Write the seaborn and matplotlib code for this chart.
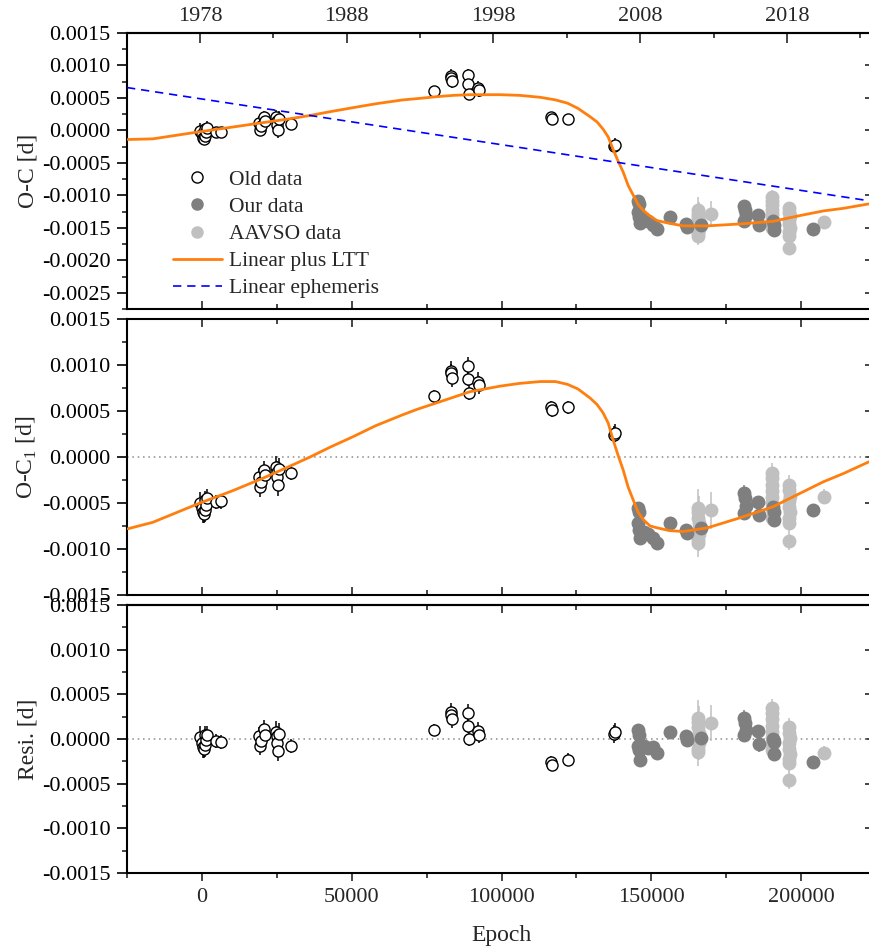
import numpy as np
import matplotlib
matplotlib.use("Agg")
import matplotlib.pyplot as plt
from matplotlib.lines import Line2D
from matplotlib.ticker import MultipleLocator, FixedLocator, FormatStrFormatter, NullLocator
import seaborn as sns

# --- data ----------------------------------------------------------------
old_epoch = [-500, 0, 300, 600, 900, 1200, 1500, 1800, 4800, 6500,
             19200, 19400, 19800, 20800, 21100,
             24600, 24900, 25100, 25300, 25600,
             29700,
             77500, 83000, 83300, 83600, 88700, 88900, 89200, 92000, 92400,
             116500, 116700, 122200,
             137500, 137800]
old_oc = [-0.00001, -0.00006, -0.00011, -0.00013, 0.00002, -0.00009, -0.00003, 0.00004, -0.00003, -0.00003,
          0.00012, 0.00001, 0.00007, 0.00020, 0.00014,
          0.00020, 0.00015, 0.00009, 0.00001, 0.00018,
          0.00010,
          0.00060, 0.00084, 0.00081, 0.00076, 0.00085, 0.00071, 0.00056, 0.00066, 0.00062,
          0.00021, 0.00018, 0.00017,
          -0.00024, -0.00022]
old_oc1 = [-0.00050, -0.00055, -0.00060, -0.00062, -0.00047, -0.00058, -0.00052, -0.00045, -0.00049, -0.00048,
           -0.00022, -0.00033, -0.00027, -0.00014, -0.00020,
           -0.00011, -0.00016, -0.00022, -0.00030, -0.00013,
           -0.00017,
           0.00066, 0.00094, 0.00091, 0.00086, 0.00099, 0.00085, 0.00070, 0.00082, 0.00078,
           0.00054, 0.00051, 0.00054,
           0.00024, 0.00026]
old_res = [0.00002, -0.00004, -0.00009, -0.00011, 0.00004, -0.00007, -0.00001, 0.00005, -0.00002, -0.00003,
           0.00003, -0.00008, -0.00002, 0.00011, 0.00005,
           0.00008, 0.00003, -0.00004, -0.00013, 0.00006,
           -0.00008,
           0.00010, 0.00030, 0.00027, 0.00022, 0.00029, 0.00015, 0.00000, 0.00009, 0.00005,
           -0.00026, -0.00029, -0.00023,
           0.00006, 0.00008]
old_err = [0.00012, 0.00010, 0.00012, 0.00010, 0.00010, 0.00013, 0.00010, 0.00010, 0.00008, 0.00008,
           0.00010, 0.00010, 0.00010, 0.00010, 0.00010,
           0.00012, 0.00012, 0.00012, 0.00012, 0.00012,
           0.00008,
           0.00007, 0.00010, 0.00010, 0.00010, 0.00010, 0.00008, 0.00008, 0.00010, 0.00010,
           0.00007, 0.00007, 0.00007,
           0.00010, 0.00010]

our_epoch = [145600, 146000, 145400, 146200, 145800, 147600, 148900, 150700, 151900, 156300,
             161500, 161900, 166700, 180800, 181200, 181600, 181000, 185700, 186000,
             190700, 190900, 191000, 204000]
our_oc = [-0.00109, -0.00114, -0.00126, -0.00142, -0.00133, -0.00137, -0.00140, -0.00145, -0.00152, -0.00133,
          -0.00144, -0.00148, -0.00145, -0.00117, -0.00123, -0.00131, -0.00139, -0.00131, -0.00145,
          -0.00139, -0.00145, -0.00153, -0.00152]
our_oc1 = [-0.00055, -0.00060, -0.00072, -0.00088, -0.00079, -0.00082, -0.00084, -0.00088, -0.00094, -0.00072,
           -0.00079, -0.00083, -0.00077, -0.00039, -0.00045, -0.00053, -0.00061, -0.00049, -0.00063,
           -0.00054, -0.00060, -0.00068, -0.00058]
our_res = [0.00010, 0.00004, -0.00008, -0.00024, -0.00012, -0.00008, -0.00010, -0.00009, -0.00016, 0.00008,
           0.00003, -0.00001, 0.00001, 0.00024, 0.00018, 0.00010, 0.00004, 0.00009, -0.00006,
           0.00000, -0.00003, -0.00017, -0.00026]
our_err = [0.00004, 0.00004, 0.00004, 0.00005, 0.00004, 0.00004, 0.00004, 0.00004, 0.00004, 0.00003,
           0.00004, 0.00004, 0.00008, 0.00009, 0.00005, 0.00005, 0.00006, 0.00004, 0.00008,
           0.00004, 0.00004, 0.00004, 0.00007]

aavso_epoch = [165500, 165600, 165700, 165800, 165900, 166000, 165700, 165600,
               170000,
               190200, 190300, 190400, 190300, 190200, 190400, 190300, 190300,
               196000, 196100, 196200, 196100, 196000, 196200, 196100, 196100, 196100,
               207700]
aavso_oc = [-0.00123, -0.00128, -0.00134, -0.00140, -0.00146, -0.00152, -0.00158, -0.00162,
            -0.00129,
            -0.00102, -0.00108, -0.00115, -0.00122, -0.00129, -0.00135, -0.00141, -0.00151,
            -0.00120, -0.00126, -0.00132, -0.00138, -0.00144, -0.00150, -0.00156, -0.00162, -0.00181,
            -0.00141]
aavso_oc1 = [-0.00055, -0.00060, -0.00066, -0.00072, -0.00078, -0.00084, -0.00090, -0.00094,
             -0.00058,
             -0.00017, -0.00023, -0.00030, -0.00037, -0.00044, -0.00050, -0.00056, -0.00066,
             -0.00030, -0.00036, -0.00042, -0.00048, -0.00054, -0.00060, -0.00066, -0.00072, -0.00091,
             -0.00043]
aavso_res = [0.00024, 0.00019, 0.00013, 0.00007, 0.00001, -0.00005, -0.00011, -0.00015,
             0.00018,
             0.00035, 0.00029, 0.00022, 0.00015, 0.00008, 0.00002, -0.00004, -0.00012,
             0.00013, 0.00007, 0.00001, -0.00005, -0.00011, -0.00017, -0.00022, -0.00027, -0.00046,
             -0.00016]
aavso_err = [0.00020, 0.00010, 0.00008, 0.00030, 0.00008, 0.00010, 0.00008, 0.00015,
             0.00020,
             0.00010, 0.00008, 0.00008, 0.00008, 0.00008, 0.00008, 0.00010, 0.00010,
             0.00010, 0.00008, 0.00008, 0.00008, 0.00008, 0.00008, 0.00008, 0.00010, 0.00010,
             0.00008]

# LTT model curve (O-C and O-C1 panels)
ltt_epoch = [-24700, -16400, -670, 10000, 20400, 28000, 36100, 43000, 50400, 58000,
             67100, 72000, 78500, 84000, 89500, 94500, 99500, 106000, 112900, 118000,
             122000, 125500, 129600, 131900, 133900, 135600, 137300, 138900, 140600, 142300,
             144000, 145600, 147300, 149600, 152000, 156000, 160700, 168700, 179700, 190700,
             198700, 207400, 214100, 222800]
ltt_oc = [-0.00014, -0.00013, -0.00002, 0.00005, 0.00012, 0.00017, 0.00023, 0.00029, 0.00035, 0.00041,
          0.00047, 0.00049, 0.00052, 0.00054, 0.00055, 0.00055, 0.00055, 0.00054, 0.00051, 0.00047,
          0.00042, 0.00034, 0.00021, 0.00013, 0.00002, -0.00010, -0.00030, -0.00047, -0.00064, -0.00085,
          -0.00100, -0.00114, -0.00123, -0.00132, -0.00139, -0.00143, -0.00147, -0.00147, -0.00144, -0.00140,
          -0.00132, -0.00124, -0.00120, -0.00113]
ltt_oc1 = [-0.00078, -0.00071, -0.00050, -0.00037, -0.00023, -0.00012, 0.00000, 0.00011, 0.00022, 0.00034,
           0.00046, 0.00052, 0.00059, 0.00065, 0.00071, 0.00074, 0.00077, 0.00080, 0.00082, 0.00082,
           0.00079, 0.00074, 0.00064, 0.00057, 0.00048, 0.00037, 0.00018, 0.00002, -0.00014, -0.00033,
           -0.00047, -0.00060, -0.00068, -0.00075, -0.00077, -0.00080, -0.00081, -0.00077, -0.00066, -0.00054,
           -0.00041, -0.00027, -0.00018, -0.00005]

# linear ephemeris (end points)
lin_epoch = [-25000, 225000]
lin_oc = [0.00066, -0.00110]

year_major = [1978, 1988, 1998, 2008, 2018]
year_minor = [1973, 1983, 1993, 2003, 2013, 2023]

# --- style ---------------------------------------------------------------
sns.set_theme(style="ticks")
plt.rcParams["font.family"] = ["Liberation Serif", "DejaVu Serif"]
plt.rcParams["mathtext.fontset"] = "custom"
plt.rcParams["mathtext.rm"] = "Liberation Serif"
plt.rcParams["axes.unicode_minus"] = False

OLD_EDGE = "black"
OUR_C = "#7f7f7f"
AAVSO_C = "#c0c0c0"
LTT_C = "#ff7f0e"
LIN_C = "#0000ff"
MS = 8
MS_FILLED = 9

fig = plt.figure(figsize=(8.69, 9.5), dpi=100)
L, W = 127 / 869, 749 / 869
ax1 = fig.add_axes([L, 1 - 309 / 950, W, 276 / 950])
ax2 = fig.add_axes([L, 1 - 595 / 950, W, 276 / 950])
ax3 = fig.add_axes([L, 1 - 873 / 950, W, 268 / 950])


def draw_set(ax, ep, val, err, face, edge, ms):
    ax.errorbar(ep, val, yerr=err, fmt="none", ecolor=edge, elinewidth=1.1, capsize=0, zorder=2)
    sns.scatterplot(x=ep, y=val, ax=ax, marker="o", s=ms ** 2, color=face, edgecolor=edge,
                    linewidth=1.0, zorder=3, legend=False)


for ax, o, u, a in [(ax1, old_oc, our_oc, aavso_oc),
                    (ax2, old_oc1, our_oc1, aavso_oc1),
                    (ax3, old_res, our_res, aavso_res)]:
    draw_set(ax, aavso_epoch, a, aavso_err, AAVSO_C, AAVSO_C, MS_FILLED)
    draw_set(ax, our_epoch, u, our_err, OUR_C, OUR_C, MS_FILLED)
    draw_set(ax, old_epoch, o, old_err, "white", OLD_EDGE, MS)

sns.lineplot(x=ltt_epoch, y=ltt_oc, ax=ax1, color=LTT_C, lw=2, sort=False, estimator=None, zorder=5)
sns.lineplot(x=lin_epoch, y=lin_oc, ax=ax1, color=LIN_C, lw=1.2, sort=False, estimator=None, zorder=5)
ax1.lines[-1].set_linestyle((0, (5, 3.5)))
sns.lineplot(x=ltt_epoch, y=ltt_oc1, ax=ax2, color=LTT_C, lw=2, sort=False, estimator=None, zorder=5)

for ax in (ax2, ax3):
    ax.axhline(0, color="#8a8a8a", lw=1.1, ls=(0, (1, 2.5)), zorder=1)

# --- axes ----------------------------------------------------------------
ax1.set_ylim(-0.00275, 0.0015)
ax2.set_ylim(-0.0015, 0.0015)
ax3.set_ylim(-0.0015, 0.0015)

for ax in (ax1, ax2, ax3):
    ax.set_xlim(-25000, 225000)
    ax.xaxis.set_major_locator(MultipleLocator(50000))
    ax.xaxis.set_minor_locator(MultipleLocator(25000))
    ax.yaxis.set_major_locator(MultipleLocator(0.0005))
    ax.yaxis.set_minor_locator(MultipleLocator(0.00025))
    ax.yaxis.set_major_formatter(FormatStrFormatter("%.4f"))
    for s in ax.spines.values():
        s.set_linewidth(1.5)
        s.set_color("black")
    ax.tick_params(axis="y", which="major", direction="out", length=7, width=1.2,
                   labelsize=16, pad=5, colors="black")
    ax.tick_params(axis="y", which="minor", direction="out", length=3.5, width=1.2)
    ax.tick_params(axis="x", which="major", length=6, width=1.2, labelsize=16)
    ax.tick_params(axis="x", which="minor", length=3.5, width=1.2)
    right = ax.secondary_yaxis("right")
    right.yaxis.set_major_locator(MultipleLocator(0.0005))
    right.yaxis.set_minor_locator(NullLocator())
    right.tick_params(direction="in", length=8, width=1.2, labelright=False)
    right.spines["right"].set_linewidth(1.5)
    ax.set_xlabel("")
    ax.set_ylabel("")

ax1.tick_params(axis="x", which="both", direction="in", top=False, bottom=True, labelbottom=False)
ax2.tick_params(axis="x", which="both", direction="in", top=True, bottom=True, labelbottom=False)
ax3.tick_params(axis="x", which="both", direction="out", top=False, bottom=True, labelbottom=True, pad=5)

top3 = ax3.secondary_xaxis("top")
top3.xaxis.set_major_locator(MultipleLocator(50000))
top3.xaxis.set_minor_locator(MultipleLocator(25000))
top3.tick_params(which="major", direction="in", length=6, width=1.2, labeltop=False)
top3.tick_params(which="minor", direction="in", length=3.5, width=1.2)
top3.spines["top"].set_linewidth(1.5)

years = ax1.secondary_xaxis("top", functions=(lambda e: 1978 + (e + 634) / 4898,
                                              lambda y: (y - 1978) * 4898 - 634))
years.xaxis.set_major_locator(FixedLocator(year_major))
years.xaxis.set_minor_locator(FixedLocator(year_minor))
years.xaxis.set_major_formatter(FormatStrFormatter("%d"))
years.tick_params(which="major", direction="in", length=7, width=1.2, labelsize=16, pad=5)
years.tick_params(which="minor", direction="in", length=3.5, width=1.2)
years.spines["top"].set_linewidth(1.5)

ax1.set_ylabel("O-C [d]", fontsize=17)
ax2.set_ylabel(r"O-C$_\mathregular{1}$ [d]", fontsize=17)
ax3.set_ylabel("Resi. [d]", fontsize=17)
for ax in (ax1, ax2, ax3):
    ax.yaxis.set_label_coords(-0.118, 0.5)
ax3.set_xlabel("Epoch", fontsize=17, labelpad=13)

handles = [
    Line2D([], [], ls="none", marker="o", ms=MS, mfc="white", mec="black", mew=1),
    Line2D([], [], ls="none", marker="o", ms=MS, mfc=OUR_C, mec=OUR_C),
    Line2D([], [], ls="none", marker="o", ms=MS, mfc=AAVSO_C, mec=AAVSO_C),
    Line2D([], [], color=LTT_C, lw=2),
    Line2D([], [], color=LIN_C, lw=1.2, ls=(0, (5, 3.5))),
]
labels = ["Old data", "Our data", "AAVSO data", "Linear plus LTT", "Linear ephemeris"]
ax1.legend(handles, labels, loc="upper left", bbox_to_anchor=(0.061, 0.505), frameon=False,
           fontsize=15.5, handlelength=2.3, handletextpad=0.3, labelspacing=0.33,
           borderaxespad=0, borderpad=0)

fig.savefig("out.png", dpi=100)
